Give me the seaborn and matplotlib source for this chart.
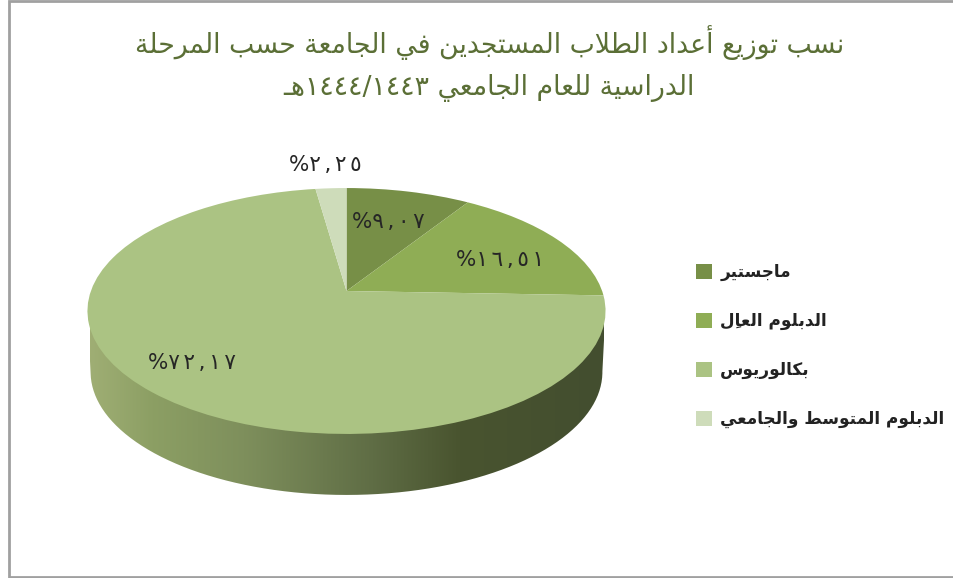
import re

import matplotlib
matplotlib.use("Agg")
import matplotlib.pyplot as plt
import matplotlib.colors as mcolors
import numpy as np
import seaborn as sns
from matplotlib.patches import PathPatch
from matplotlib.path import Path
from matplotlib.transforms import Transform

# chart data
title_lines = ["نسب توزيع أعداد الطلاب المستجدين في الجامعة حسب المرحلة",
               "الدراسية للعام الجامعي ١٤٤٣/١٤٤٤هـ"]
categories = ["ماجستير", "الدبلوم العالِ", "بكالوريوس", "الدبلوم المتوسط والجامعي"]
shares = [9.07, 16.51, 72.17, 2.25]
slice_colors = ["#778F47", "#8FAD55", "#ABC383", "#CEDCBA"]

# pixel positions of the value labels
label_xy = [(388, 222), (500, 260), (192, 363), (325, 165)]

# isolated, final, initial, medial
FORMS = {
    "ء": "\ufe80\ufe80\ufe80\ufe80", "أ": "\ufe83\ufe84\ufe83\ufe84",
    "ا": "\ufe8d\ufe8e\ufe8d\ufe8e", "ب": "\ufe8f\ufe90\ufe91\ufe92",
    "ة": "\ufe93\ufe94\ufe93\ufe94", "ت": "\ufe95\ufe96\ufe97\ufe98",
    "ج": "\ufe9d\ufe9e\ufe9f\ufea0", "ح": "\ufea1\ufea2\ufea3\ufea4",
    "د": "\ufea9\ufeaa\ufea9\ufeaa", "ر": "\ufead\ufeae\ufead\ufeae",
    "ز": "\ufeaf\ufeb0\ufeaf\ufeb0", "س": "\ufeb1\ufeb2\ufeb3\ufeb4",
    "ط": "\ufec1\ufec2\ufec3\ufec4", "ع": "\ufec9\ufeca\ufecb\ufecc",
    "ف": "\ufed1\ufed2\ufed3\ufed4", "ك": "\ufed9\ufeda\ufedb\ufedc",
    "ل": "\ufedd\ufede\ufedf\ufee0", "م": "\ufee1\ufee2\ufee3\ufee4",
    "ن": "\ufee5\ufee6\ufee7\ufee8", "ه": "\ufee9\ufeea\ufeeb\ufeec",
    "و": "\ufeed\ufeee\ufeed\ufeee", "ي": "\ufef1\ufef2\ufef3\ufef4",
    "ـ": "\u0640\u0640\u0640\u0640",
}
NO_LEFT_JOIN = set("ءأادرزةو")
MARKS = "\u0650"


def shape(text):
    # matplotlib has no arabic shaping, so pick the forms and lay out by hand
    text = text.replace("لا", "\ufef5")
    tokens = []
    for part in re.findall(r"[٠-٩]+|.", text):
        if part in MARKS:
            tokens[-1] += part
            continue
        tokens.append(part)
    out = []
    bases = [t[0] for t in tokens]
    for i, t in enumerate(tokens):
        c = t[0]
        prev = bases[i - 1] if i else " "
        nxt = bases[i + 1] if i + 1 < len(bases) else " "
        joins_prev = prev in FORMS and prev not in NO_LEFT_JOIN
        if c == "\ufef5":
            out.append("\ufefc" if joins_prev else "\ufefb")
        elif c in FORMS:
            joins_next = c not in NO_LEFT_JOIN and (nxt in FORMS or nxt == "\ufef5")
            form = FORMS[c][(2 if joins_next else 0) + (1 if joins_prev else 0)]
            out.append(form + t[1:])
        else:
            out.append(t)
    return "".join(reversed(out))


def arabic_value(v):
    s = f"{v:.2f}".replace(".", ",")
    s = s.translate(str.maketrans("0123456789", "٠١٢٣٤٥٦٧٨٩"))
    return "%" + "\u2006".join(s)


class TiltedDisc(Transform):
    # projective view of the unit circle, so the pie centre sits above the ellipse centre
    input_dims = output_dims = 2
    is_separable = False
    has_inverse = False

    def __init__(self, cx, cy, a, b, k):
        super().__init__()
        self.cx, self.cy, self.a, self.b, self.k = cx, cy, a, b, k

    def transform_non_affine(self, values):
        values = np.asarray(values, dtype=float)
        d = 1 + self.k * values[:, 1]
        return np.column_stack((self.cx + self.b * values[:, 0] / d,
                                self.cy - self.a * values[:, 1] / d))


sns.set_theme(style="white")
plt.rcParams["font.family"] = ["DejaVu Sans"]

fig = plt.figure(figsize=(9.54, 5.78), dpi=100)
ax = fig.add_axes([0, 0, 1, 1])

wedges, _ = ax.pie(shares, colors=slice_colors, startangle=90, counterclock=False,
                   wedgeprops={"linewidth": 0})
ax.set_aspect("auto")
ax.set_xlim(0, 954)
ax.set_ylim(578, 0)
ax.set_axis_off()

disc = TiltedDisc(346.5, 291, 119.7, 255.6, 0.1626)
for w in wedges:
    w.set_transform(disc + ax.transData)
    w.set_zorder(3)
    w.set_clip_on(False)

# side wall of the disc
t = np.linspace(0, 2 * np.pi, 361)
circle = np.column_stack((np.sin(t), np.cos(t)))
top = disc.transform(circle)
low = TiltedDisc(346.5, 352, 119.7, 252.5, 0.1626).transform(circle)
left_i = np.argmin(top[:, 0])
right_i = np.argmax(top[:, 0])
keep_low = low[:, 1] >= low[np.argmin(low[:, 0]), 1] - 1
low_half = low[keep_low]
low_half = low_half[np.argsort(low_half[:, 0])]
outline = np.vstack((top[[left_i]], low_half, top[[right_i]]))
wall_cmap = mcolors.LinearSegmentedColormap.from_list(
    "wall", [(0, "#9FAE74"), (0.12, "#8C9F64"), (0.3, "#7E8F5C"), (0.55, "#5F6D45"),
             (0.72, "#49542F"), (1, "#434E30")])
grad = ax.imshow(np.linspace(0, 1, 256)[None, :], cmap=wall_cmap, aspect="auto",
                 extent=(90, 604, 500, 290), zorder=1)
ax.set_xlim(0, 954)
ax.set_ylim(578, 0)
patch = PathPatch(Path(outline), transform=ax.transData, facecolor="none", edgecolor="none")
ax.add_patch(patch)
grad.set_clip_path(patch)

# frame
ax.plot([954, 9, 9, 954], [1, 1, 577, 577], color="#A0A0A0", lw=2, solid_joinstyle="miter", zorder=5)

# title
ax.text(489.5, 43, shape(title_lines[0]), color="#5B6F36", fontsize=19.3, ha="center", va="center")
ax.text(488.5, 88, shape(title_lines[1]), color="#5B6F36", fontsize=19.3, ha="center", va="center")

# value labels
for v, (x, y) in zip(shares, label_xy):
    ax.text(x, y, arabic_value(v), color="#262626", fontsize=15.5, ha="center", va="center", zorder=6)

# legend
ax.legend(wedges, [shape(c) for c in categories], loc="upper left",
          bbox_to_anchor=(681 / 954, 1 - 248 / 578), frameon=False,
          handlelength=0.95, handleheight=0.95, handletextpad=0.47, labelspacing=1.82,
          prop={"size": 12.2, "weight": "bold"}, labelcolor="#222222")

fig.savefig("out.png", dpi=100)
